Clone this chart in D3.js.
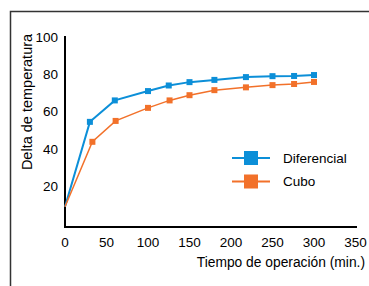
<!DOCTYPE html>
<html><head><meta charset="utf-8">
<script src="https://cdn.jsdelivr.net/npm/d3@7"></script>
<style>body{margin:0;background:#fff}svg{display:block}text{font-family:"Liberation Sans",Arial,sans-serif}</style>
</head><body><svg id="c" width="369" height="286"></svg>
<script>
const xDiferencial = [0, 30, 60, 100, 125, 150, 180, 218, 250, 276, 300];
const yDiferencial = [9, 54.5, 66, 71, 74, 75.8, 77, 78.5, 79, 79.1, 79.6];
const xCubo = [0, 33, 61, 100, 126, 150, 180, 218, 250, 276, 300];
const yCubo = [9, 43.8, 55, 62, 66, 68.8, 71.5, 73, 74.2, 74.8, 75.9];
const xTicks = [0, 50, 100, 150, 200, 250, 300, 350];
const yTicks = [20, 40, 60, 80, 100];
const seriesNames = ["Diferencial", "Cubo"];
const colors = ["#0c8fd8", "#f2712a"];

const svg = d3.select("#c");
const x = d3.scaleLinear().domain([0, 350]).range([65, 355.5]);
const y = d3.scaleLinear().domain([0, 100]).range([223.5, 37]);

// frame
svg.append("path").attr("d", "M369,11.5H10.5V286").attr("fill", "none").attr("stroke", "#333").attr("stroke-width", 1.5);

// axes
svg.append("line").attr("x1", 65).attr("x2", 65).attr("y1", y(100) - 1).attr("y2", 227.5).attr("stroke", "#000").attr("stroke-width", 2);
svg.append("line").attr("x1", 64).attr("x2", 357).attr("y1", 227).attr("y2", 227).attr("stroke", "#000").attr("stroke-width", 2);

svg.selectAll(".yt").data(yTicks).join("text").attr("x", 58).attr("y", d => y(d)).attr("dy", "0.35em")
  .attr("text-anchor", "end").attr("font-size", 13.5).text(d => d);
svg.selectAll(".xt").data(xTicks).join("text").attr("x", d => x(d)).attr("y", 242).attr("dy", "0.35em")
  .attr("text-anchor", "middle").attr("font-size", 13.5).text(d => d);

svg.append("text").attr("transform", "translate(27,102) rotate(-90)").attr("text-anchor", "middle").attr("dy", "0.35em")
  .attr("font-size", 14.5).text("Delta de temperatura");
svg.append("text").attr("x", 365).attr("y", 262).attr("dy", "0.35em").attr("text-anchor", "end")
  .attr("font-size", 13.8).text("Tiempo de operación (min.)");

const series = [
  {xs: xDiferencial, ys: yDiferencial, w: 2, s: 6},
  {xs: xCubo, ys: yCubo, w: 1.5, s: 6}
];
const line = d3.line().x(d => x(d[0])).y(d => y(d[1]));
series.forEach((s, i) => {
  const pts = s.xs.map((v, j) => [v, s.ys[j]]);
  svg.append("path").datum(pts).attr("d", line).attr("fill", "none").attr("stroke", colors[i]).attr("stroke-width", s.w);
  svg.selectAll(null).data(pts.slice(1)).join("rect")
    .attr("x", d => x(d[0]) - s.s / 2).attr("y", d => y(d[1]) - s.s / 2)
    .attr("width", s.s).attr("height", s.s).attr("fill", colors[i]);
});

// legend
seriesNames.forEach((n, i) => {
  const ly = 158 + i * 23.5;
  svg.append("line").attr("x1", 232).attr("x2", 270).attr("y1", ly).attr("y2", ly).attr("stroke", colors[i]).attr("stroke-width", 2);
  svg.append("rect").attr("x", 244).attr("y", ly - 7).attr("width", 14).attr("height", 14).attr("fill", colors[i]);
  svg.append("text").attr("x", 283).attr("y", ly).attr("dy", "0.35em").attr("font-size", 13.5).text(n);
});
</script></body></html>
